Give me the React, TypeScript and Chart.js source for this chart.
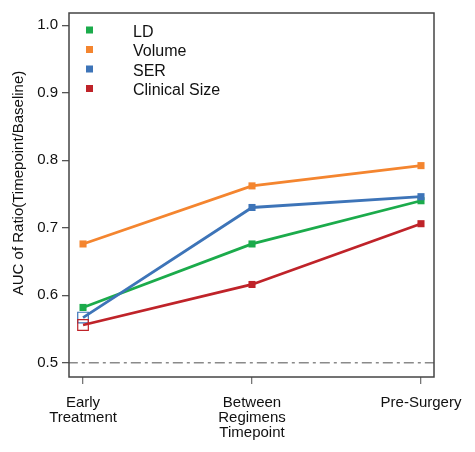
import React, { useEffect, useRef } from "react";
import { Chart, registerables } from "chart.js";

Chart.register(...registerables);

const categories: string[][] = [["Early", "Treatment"], ["Between", "Regimens", "Timepoint"], ["Pre-Surgery"]];
const seriesNames = ["LD", "Volume", "SER", "Clinical Size"];
const seriesColors = ["#1bab4b", "#f4852f", "#3d74b8", "#bf2329"];
const ldValues = [0.582, 0.676, 0.740];
const volumeValues = [0.676, 0.762, 0.792];
const serValues = [0.567, 0.730, 0.746];
const clinicalValues = [0.556, 0.616, 0.706];
const yTicks = [0.5, 0.6, 0.7, 0.8, 0.9, 1.0];
const referenceLine = 0.5;
const yTitle = "AUC of Ratio(Timepoint/Baseline)";

const FONT = "'Liberation Sans', Arial, sans-serif";

export default function App() {
  const ref = useRef<HTMLCanvasElement | null>(null);
  useEffect(() => {
    document.body.style.margin = "0";
    const canvas = ref.current!;
    const allSeries = [ldValues, volumeValues, serValues, clinicalValues];
    const hollowFirst = [false, false, true, true];
    const datasets: any[] = allSeries.map((vals, i) => ({
      label: seriesNames[i],
      data: vals.map((v, j) => ({ x: j, y: v })),
      borderColor: seriesColors[i],
      backgroundColor: seriesColors[i],
      borderWidth: 2.8,
      pointStyle: "rect",
      pointRadius: vals.map((_, j) => (hollowFirst[i] && j === 0 ? 7.5 : 5)),
      pointBorderWidth: vals.map((_, j) => (hollowFirst[i] && j === 0 ? 1.2 : 0)),
      pointBackgroundColor: vals.map((_, j) => (hollowFirst[i] && j === 0 ? "rgba(0,0,0,0)" : seriesColors[i])),
      pointBorderColor: seriesColors[i],
      tension: 0,
      order: 4 - i,
    }));
    datasets.push({
      label: "ref",
      data: [{ x: -0.09, y: referenceLine }, { x: 2.09, y: referenceLine }],
      borderColor: "#8a8a8a",
      borderWidth: 1.5,
      borderDash: [10, 4, 3, 4],
      pointRadius: 0,
      order: 10,
    });

    const frame = {
      id: "frame",
      afterDatasetsDraw(chart: any) {
        const { ctx, chartArea: a } = chart;
        ctx.save();
        ctx.strokeStyle = "#444";
        ctx.lineWidth = 1.5;
        ctx.strokeRect(a.left, a.top, a.right - a.left, a.bottom - a.top);
        ctx.restore();
      },
      afterDraw(chart: any) {
        const { ctx } = chart;
        ctx.save();
        ctx.font = `16px ${FONT}`;
        ctx.textBaseline = "middle";
        const ys = [30, 49.5, 69, 88.5];
        seriesNames.forEach((n, i) => {
          ctx.fillStyle = seriesColors[i];
          ctx.fillRect(86, ys[i] - 3.5, 7, 7);
          ctx.fillStyle = "#111";
          ctx.fillText(n, 133, ys[i] + 2.5);
        });
        ctx.translate(19, 183);
        ctx.rotate(-Math.PI / 2);
        ctx.textAlign = "center";
        ctx.font = `15px ${FONT}`;
        ctx.fillText(yTitle, 0, 0);
        ctx.restore();
      },
    };

    const chart = new Chart(canvas, {
      type: "line",
      data: { datasets },
      options: {
        animation: false,
        responsive: false,
        maintainAspectRatio: false,
        layout: { padding: { top: 13, right: 41, left: 0, bottom: 0 } },
        plugins: { legend: { display: false }, tooltip: { enabled: false } },
        scales: {
          x: {
            type: "linear",
            min: -0.083,
            max: 2.077,
            afterBuildTicks: (s: any) => {
              s.ticks = [0, 1, 2].map((v) => ({ value: v }));
            },
            afterFit: (s: any) => {
              s.height = 75;
            },
            ticks: {
              autoSkip: false,
              maxRotation: 0,
              color: "#111",
              font: { family: FONT, size: 15, lineHeight: 1.0 },
              padding: 11,
              callback: (v: any) => categories[Math.round(Number(v))] ?? "",
            },
            grid: { drawOnChartArea: false, drawTicks: true, tickLength: 7, tickColor: "#777", lineWidth: 1.3 },
            border: { display: false },
          },
          y: {
            type: "linear",
            min: 0.479,
            max: 1.018,
            afterBuildTicks: (s: any) => {
              s.ticks = yTicks.map((v) => ({ value: v }));
            },
            afterFit: (s: any) => {
              s.width = 69;
            },
            ticks: {
              color: "#111",
              font: { family: FONT, size: 15 },
              padding: 4,
              callback: (v: any) => Number(v).toFixed(1),
            },
            grid: { drawOnChartArea: false, drawTicks: true, tickLength: 7, tickColor: "#555", lineWidth: 1.3 },
            border: { display: false },
          },
        },
      },
      plugins: [frame],
    } as any);
    return () => chart.destroy();
  }, []);
  return <canvas ref={ref} width={475} height={452} style={{ display: "block", width: 475, height: 452 }} />;
}
